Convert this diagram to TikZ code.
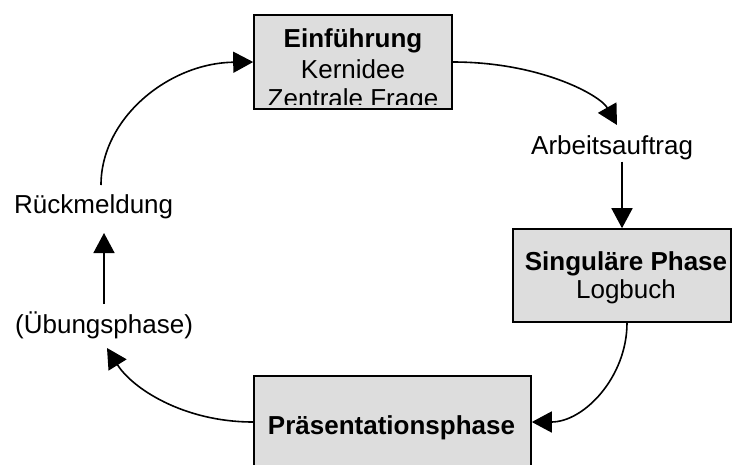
\documentclass[tikz,border=0pt]{standalone}
\usepackage{fontspec}
\setmainfont{Liberation Sans}
\usetikzlibrary{arrows.meta}
\definecolor{boxgray}{RGB}{221,221,221}
\tikzset{
  box/.style={draw=black, line width=1.6pt, fill=boxgray, rectangle, inner sep=0pt},
  lbl/.style={font=\fontsize{26}{31}\selectfont, inner sep=2pt, anchor=base},
  ttl/.style={lbl, font=\fontsize{26}{31}\selectfont\bfseries},
  conn/.style={line width=1.6pt, -{Triangle[length=20pt,width=21pt]}},
}
\begin{document}
\begin{tikzpicture}[x=1pt,y=-1pt]
\useasboundingbox (0,0) rectangle (733,464);
\clip (0,0) rectangle (733,464);
% boxes
\node[box, minimum width=198pt, minimum height=94pt] (intro) at (353,62) {};
\begin{scope}
  \clip (254,15) rectangle (452,104);
  \node[ttl] (t1) at (353,47) {Einführung};
  \node[lbl] (t2) at (353,78) {Kernidee};
  \node[lbl] (t3) at (353,107.5) {Zentrale Frage};
\end{scope}
\node[box, minimum width=218pt, minimum height=93pt] (single) at (622,275.5) {};
\node[ttl] (s1) at (626,270) {Singuläre Phase};
\node[lbl] (s2) at (626,298) {Logbuch};
\node[box, minimum width=277pt, minimum height=98pt] (praes) at (392.5,425) {};
\node[ttl] (p1) at (391.5,434) {Präsentationsphase};
% free labels
\node[lbl, anchor=base west] (arb) at (529,154) {Arbeitsauftrag};
\node[lbl, anchor=base west] (rueck) at (12,213) {Rückmeldung};
\node[lbl, anchor=base west] (ueb) at (13,333) {(Übungsphase)};
% connector ends
\coordinate (arbTip) at (617,125);
\coordinate (rueckTop) at (101,185);
\coordinate (rueckBot) at (104,233);
\coordinate (uebTop) at (104,304);
\coordinate (uebTip) at (107,348);
% connectors
\draw[conn] (intro.east) .. controls (540,62) and (600,95) .. (arbTip);
\draw[conn] (single.north |- arb.south) -- (single.north);
\draw[conn] ([xshift=5pt]single.south) .. controls (627,377) and (584,422) .. ([yshift=3pt]praes.east);
\draw[conn] ([yshift=3pt]praes.west) .. controls (183,422) and (132,388) .. (uebTip);
\draw[conn] (uebTop) -- (rueckBot);
\draw[conn] (rueckTop) .. controls (101,118) and (169,63) .. (intro.west);
\end{tikzpicture}
\end{document}
